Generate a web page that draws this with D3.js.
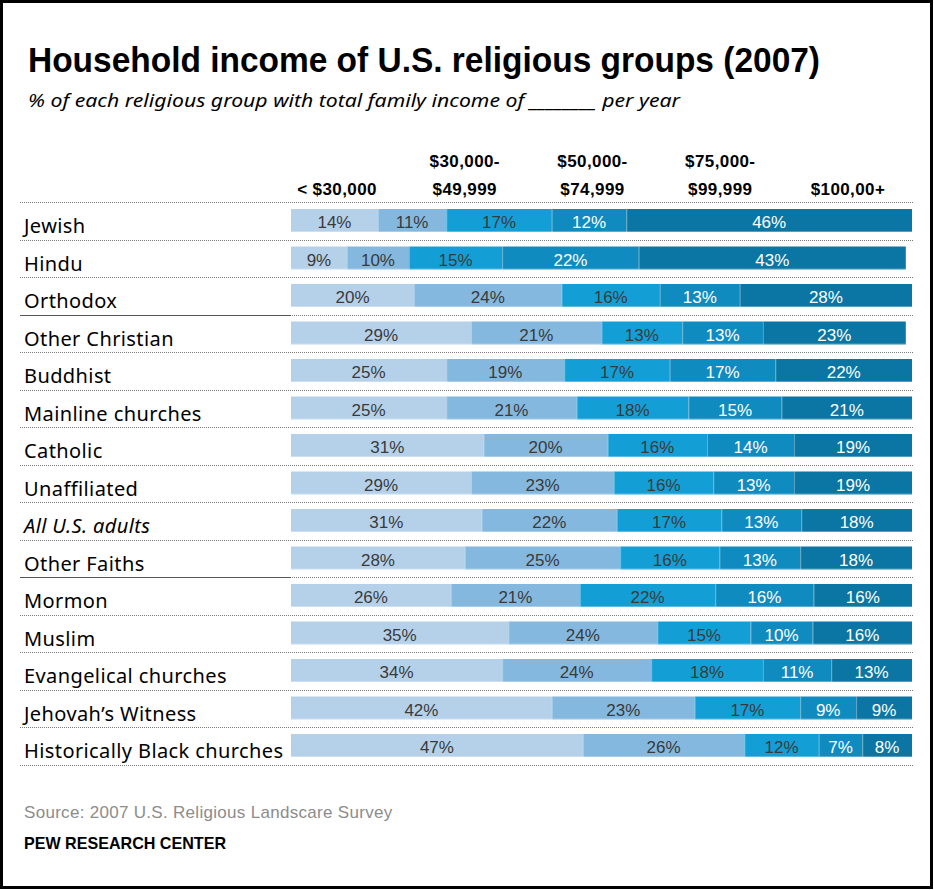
<!DOCTYPE html>
<html><head><meta charset="utf-8">
<script src="https://cdn.jsdelivr.net/npm/d3@7"></script>
<style>
html,body{margin:0;padding:0;background:#fff;}
svg{display:block;}
</style></head>
<body>
<svg id="chart" width="934" height="890"></svg>
<script>
const groups = ["Jewish","Hindu","Orthodox","Other Christian","Buddhist","Mainline churches","Catholic","Unaffiliated","All U.S. adults","Other Faiths","Mormon","Muslim","Evangelical churches","Jehovah\u2019s Witness","Historically Black churches"];
const incomeLabels = [["", "< $30,000"],["$30,000-","$49,999"],["$50,000-","$74,999"],["$75,000-","$99,999"],["","$100,00+"]];
const under30 =   [14, 9,20,29,25,25,31,29,31,28,26,35,34,42,47];
const from30to50 =[11,10,24,21,19,21,20,23,22,25,21,24,24,23,26];
const from50to75 =[17,15,16,13,17,18,16,16,17,16,22,15,18,17,12];
const from75to100=[12,22,13,13,17,15,14,13,13,13,16,10,11, 9, 7];
const over100 =   [46,43,28,23,22,21,19,19,18,18,16,16,13, 9, 8];
const colors = ["#b5d1ea","#84b8de","#139fd6","#0f8bbf","#0b76a3"];
const textColors = ["#3a3a3a","#3a3a3a","#3a3a3a","#ffffff","#ffffff"];
const solidUnderline = ["Orthodox","Other Faiths"];

const series = [under30, from30to50, from50to75, from75to100, over100];
const svg = d3.select("#chart");

// frame
svg.append("rect").attr("x",1.5).attr("y",1.5).attr("width",930).attr("height",886)
  .attr("fill","none").attr("stroke","#000").attr("stroke-width",3);

// title
svg.append("text").attr("x",28).attr("y",72)
  .attr("font-family","Liberation Sans, Arial, sans-serif")
  .attr("font-weight","bold").attr("font-size",35).attr("fill","#000")
  .attr("textLength",792).attr("lengthAdjust","spacingAndGlyphs")
  .text("Household income of U.S. religious groups (2007)");
svg.append("text").attr("x",28).attr("y",107)
  .attr("font-family","Noto Sans, sans-serif").attr("font-style","italic")
  .attr("font-size",18).attr("fill","#000")
  .attr("textLength",652).attr("lengthAdjust","spacingAndGlyphs")
  .text("% of each religious group with total family income of ________ per year");

const x = d3.scaleLinear().domain([0,100]).range([291,912]);
const y = d3.scaleBand().domain(groups).range([202, 202+37.5*groups.length]);
const hx = d3.scalePoint().domain(d3.range(incomeLabels.length)).range([337,848]);

// header labels
const hdr = svg.append("g").attr("font-family","Liberation Sans, Arial, sans-serif")
  .attr("font-weight","bold").attr("font-size",17).attr("letter-spacing",0.4)
  .attr("text-anchor","middle").attr("fill","#000");
incomeLabels.forEach((l,i)=>{
  hdr.append("text").attr("x",hx(i)).attr("y",167).text(l[0]);
  hdr.append("text").attr("x",hx(i)).attr("y",195).text(l[1]);
});

// separator lines
const lineData = [{y:y.range()[0], solid:false}].concat(groups.map(g=>({y:y(g)+y.bandwidth(), solid:solidUnderline.includes(g)})));
svg.append("g").selectAll("line").data(lineData).join("line")
  .attr("x1",20).attr("x2",913).attr("y1",d=>Math.round(d.y)+0.5).attr("y2",d=>Math.round(d.y)+0.5)
  .attr("stroke","#7a7a7a").attr("stroke-width",1).attr("stroke-dasharray","1,1");
svg.append("g").selectAll("line").data(lineData.filter(d=>d.solid)).join("line")
  .attr("x1",20).attr("x2",x(0)).attr("y1",d=>Math.round(d.y)+0.5).attr("y2",d=>Math.round(d.y)+0.5)
  .attr("stroke","#555").attr("stroke-width",1);

// stacked data (rows whose rounded shares exceed 100 are scaled to 100)
const rows = groups.map((g,i)=>{
  const total = d3.sum(series, s=>s[i]);
  const f = total > 100 ? 100/total : 1;
  let acc=0;
  return series.map((s,k)=>{ const o={g, k, v:s[i], x0:acc*f, x1:(acc+s[i])*f}; acc+=s[i]; return o;});
});

const barG = svg.append("g");
rows.forEach(r=>{
  const rg = barG.append("g");
  rg.selectAll("rect").data(r).join("rect")
    .attr("x",d=>x(d.x0)).attr("width",d=>x(d.x1)-x(d.x0))
    .attr("y",d=>y(d.g)+7).attr("height",23)
    .attr("fill",d=>colors[d.k]);
  rg.selectAll("line.sep").data(r.slice(1)).join("line")
    .attr("x1",d=>x(d.x0)+0.5).attr("x2",d=>x(d.x0)+0.5)
    .attr("y1",d=>y(d.g)+7).attr("y2",d=>y(d.g)+30)
    .attr("stroke","#ffffff").attr("stroke-opacity",0.3);
  rg.append("line")
    .attr("x1",x(r[0].x0)).attr("x2",x(r[r.length-1].x1))
    .attr("y1",y(r[0].g)+29.5).attr("y2",y(r[0].g)+29.5)
    .attr("stroke","#ffffff").attr("stroke-opacity",0.3);
  rg.selectAll("text").data(r).join("text")
    .attr("x",d=>(x(d.x0)+x(d.x1))/2).attr("y",d=>y(d.g)+26)
    .attr("text-anchor","middle").attr("font-family","Liberation Sans, Arial, sans-serif")
    .attr("font-size",17).attr("fill",d=>textColors[d.k])
    .text(d=>d.v+"%");
});

// category labels
svg.append("g").selectAll("text").data(groups).join("text")
  .attr("x",24).attr("y",g=>y(g)+31)
  .attr("font-family","Noto Sans, Open Sans, sans-serif").attr("font-size",20)
  .attr("letter-spacing",0.4)
  .attr("font-style",g=>g==="All U.S. adults"?"italic":"normal")
  .attr("fill","#000").text(g=>g);

// footer
svg.append("text").attr("x",24).attr("y",818)
  .attr("font-family","Liberation Sans, Arial, sans-serif").attr("font-size",17)
  .attr("letter-spacing",0.3).attr("fill","#8c8c8c")
  .text("Source: 2007 U.S. Religious Landscare Survey");
svg.append("text").attr("x",24).attr("y",849)
  .attr("font-family","Liberation Sans, Arial, sans-serif").attr("font-weight","bold")
  .attr("font-size",17).attr("fill","#000")
  .attr("textLength",202).attr("lengthAdjust","spacingAndGlyphs")
  .text("PEW RESEARCH CENTER");
</script>
</body></html>
